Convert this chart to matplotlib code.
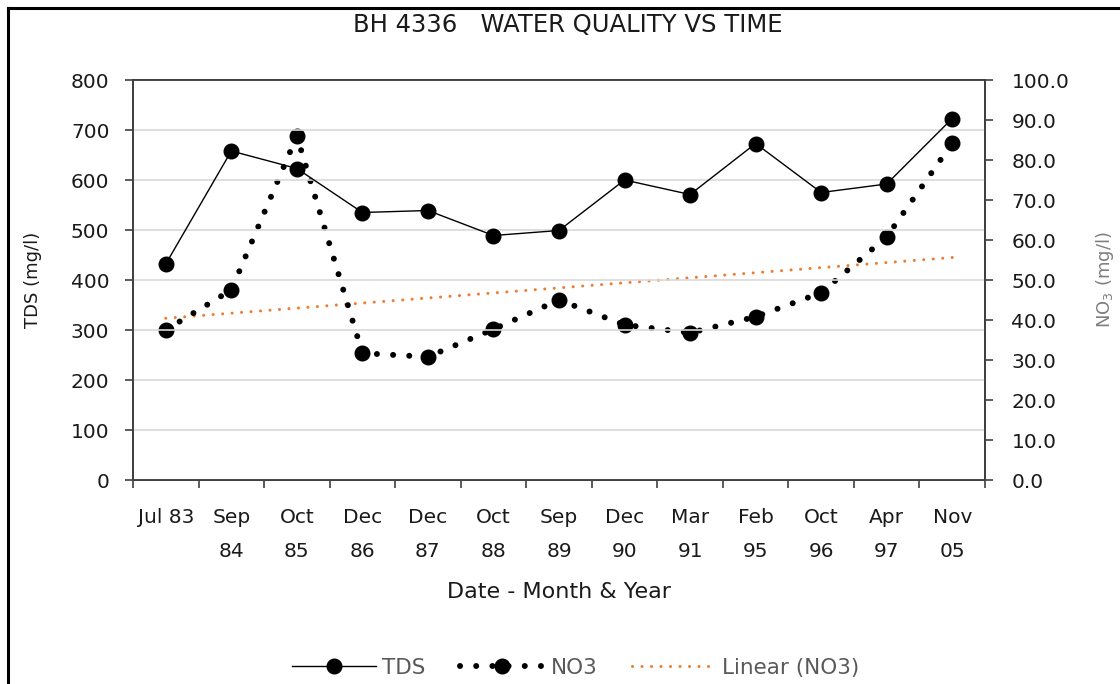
import numpy as np
import matplotlib
matplotlib.use("Agg")
import matplotlib.pyplot as plt
from matplotlib.lines import Line2D

plt.rcParams['font.family'] = ['DejaVu Sans']

# data
dates = ["Jul 83", "Sep\n84", "Oct\n85", "Dec\n86", "Dec\n87", "Oct\n88", "Sep\n89",
         "Dec\n90", "Mar\n91", "Feb\n95", "Oct\n96", "Apr\n97", "Nov\n05"]
tds = [432, 658, 623, 535, 539, 489, 499, 600, 571, 673, 575, 592, 723]
no3 = [37.5, 47.5, 86.0, 31.7, 30.8, 37.7, 45.0, 38.8, 36.8, 40.8, 46.8, 60.8, 84.2]

axis_col = '#404040'
txt_col = '#1a1a1a'
fs = 14.5

fig = plt.figure(figsize=(11.2, 6.84), dpi=100)
ax = fig.add_axes([133/1120, 1-480/684, 852/1120, 400/684])
ax2 = ax.twinx()

x = np.arange(len(dates))

# linear trend of NO3
coef = np.polyfit(x, no3, 1)
trend = np.polyval(coef, x)

l3, = ax2.plot(x, trend, color='#ED7D31', lw=2.2, linestyle=(0, (0.01, 3.1)),
               dash_capstyle='round', label='Linear (NO3)', zorder=2)
l2, = ax2.plot(x, no3, color='black', lw=4.3, linestyle=(0, (0.01, 2.7)),
               dash_capstyle='round', marker='o', markersize=10.5, label='NO3', zorder=3)
l1, = ax.plot(x, tds, color='black', lw=1.0, marker='o', markersize=10.5, label='TDS', zorder=3)

ax.set_zorder(ax2.get_zorder() + 1)
ax.patch.set_visible(False)

ax.set_xlim(-0.5, len(dates) - 0.5)
ax.set_ylim(0, 800)
ax.set_yticks(np.arange(0, 801, 100))
ax2.set_ylim(0, 100)
ax2.set_yticks(np.arange(0, 101, 10))
ax2.set_yticklabels([f"{v:.1f}" for v in np.arange(0, 101, 10)])

ax.set_xticks(x)
ax.set_xticklabels(dates, fontsize=fs, linespacing=2.0, va='top', color=txt_col)
ax.set_xticks(np.arange(-0.5, len(dates), 1), minor=True)
ax.tick_params(axis='x', which='major', length=0, pad=20)
ax.tick_params(axis='x', which='minor', length=6, width=1.2, color=axis_col, direction='out')
ax.tick_params(axis='y', length=6, width=1.2, color=axis_col, labelsize=fs, pad=11,
               labelcolor=txt_col)
ax2.tick_params(axis='y', length=6, width=1.2, color=axis_col, labelsize=fs, pad=13,
                labelcolor=txt_col)

ax.grid(axis='y', color='#d9d9d9', lw=1.2)
for a in (ax, ax2):
    for s in a.spines.values():
        s.set_color(axis_col)
        s.set_linewidth(1.3)

ax.set_ylabel("TDS (mg/l)", fontsize=13, color=txt_col)
ax.yaxis.set_label_coords(-0.107, 0.5)
ax2.set_ylabel("NO$_3$ (mg/l)", fontsize=13, color='#7f7f7f')
ax2.yaxis.set_label_coords(1.128, 0.5)
ax.set_xlabel("Date - Month & Year", fontsize=16, color=txt_col)
ax.xaxis.set_label_coords(0.5, -0.255)

fig.text(0.507, 1 - 25/684, "BH 4336   WATER QUALITY VS TIME", fontsize=17.5,
         ha='center', va='center', color=txt_col)

fig.legend(handles=[l1, l2, l3], loc='center', bbox_to_anchor=(0.514, 1 - 668/684),
           ncol=3, frameon=False, fontsize=15.5, handlelength=3.9, columnspacing=1.6,
           handletextpad=0.3, labelcolor='#595959')

# chart border (left and top edges visible in the crop)
fig.add_artist(Line2D([8/1120, 8/1120], [0, 1 - 8/684], transform=fig.transFigure,
                      color='black', lw=2.2))
fig.add_artist(Line2D([8/1120, 1], [1 - 8/684, 1 - 8/684], transform=fig.transFigure,
                      color='black', lw=2.2))

fig.savefig("out.png", dpi=100)
